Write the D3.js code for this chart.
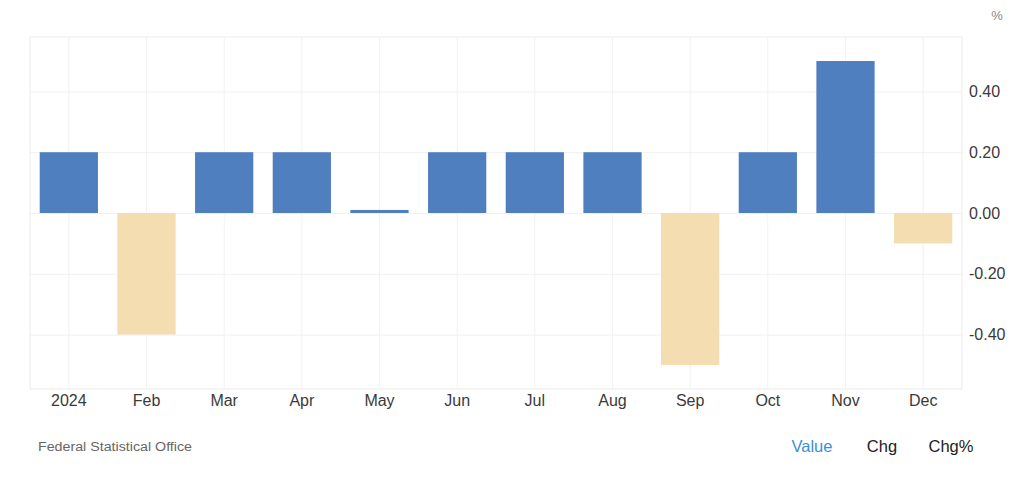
<!DOCTYPE html>
<html>
<head>
<meta charset="utf-8">
<script src="https://cdn.jsdelivr.net/npm/d3@7"></script>
<style>
  body { margin: 0; background: #fff; }
  svg { display: block; font-family: "Liberation Sans", Arial, sans-serif; }
</style>
</head>
<body>
<svg></svg>
<script>
var months = ["2024", "Feb", "Mar", "Apr", "May", "Jun", "Jul", "Aug", "Sep", "Oct", "Nov", "Dec"];
var values = [0.2, -0.4, 0.2, 0.2, 0.01, 0.2, 0.2, 0.2, -0.5, 0.2, 0.5, -0.1];
var yTicks = [-0.4, -0.2, 0, 0.2, 0.4];

var svgWidth = 1024, svgHeight = 481;
var plotLeft = 30, plotRight = 962, plotTop = 37, plotBottom = 389;

var svg = d3.select("svg")
    .attr("width", svgWidth)
    .attr("height", svgHeight);

var x = d3.scaleBand()
    .domain(months)
    .range([plotLeft, plotRight])
    .paddingInner(0.25)
    .paddingOuter(0.125);

var y = d3.scaleLinear()
    .domain([-0.579, 0.579])
    .range([plotBottom, plotTop]);

// plot frame
svg.append("rect")
    .attr("x", plotLeft)
    .attr("y", plotTop)
    .attr("width", plotRight - plotLeft)
    .attr("height", plotBottom - plotTop)
    .style("fill", "none")
    .style("stroke", "#ebebeb");

// vertical grid at category centers
svg.append("g")
    .selectAll("line")
    .data(months)
    .enter()
    .append("line")
    .attr("x1", function(d) { return x(d) + x.bandwidth() / 2; })
    .attr("x2", function(d) { return x(d) + x.bandwidth() / 2; })
    .attr("y1", plotTop)
    .attr("y2", plotBottom)
    .style("stroke", "#f2f2f2");

// horizontal grid + right axis (plain hyphen for negatives)
var fmt = function(d) { return d3.format(".2f")(d).replace("\u2212", "-"); };
var yAxis = svg.append("g")
    .attr("transform", "translate(" + plotRight + ",0)")
    .call(d3.axisRight(y).tickValues(yTicks).tickFormat(fmt).tickSize(-(plotRight - plotLeft)).tickPadding(7));
yAxis.select(".domain").remove();
yAxis.selectAll(".tick line").style("stroke", "#f0f0f0");
yAxis.selectAll(".tick text")
    .style("font-size", "16px")
    .style("fill", "#3a3a3a");

svg.append("text")
    .attr("x", 997)
    .attr("y", 20)
    .attr("text-anchor", "middle")
    .style("font-size", "13px")
    .style("fill", "#888")
    .text("%");

// bars
svg.append("g")
    .selectAll("rect")
    .data(values)
    .enter()
    .append("rect")
    .attr("x", function(d, i) { return x(months[i]); })
    .attr("width", x.bandwidth())
    .attr("y", function(d) { return y(Math.max(0, d)); })
    .attr("height", function(d) { return Math.abs(y(d) - y(0)); })
    .style("fill", function(d) { return d >= 0 ? "#4f7fbf" : "#f3ddb1"; });

// x axis
var xAxis = svg.append("g")
    .attr("transform", "translate(0," + plotBottom + ")")
    .call(d3.axisBottom(x).tickSize(0).tickPadding(6));
xAxis.select(".domain").remove();
xAxis.selectAll(".tick text")
    .style("font-size", "16px")
    .style("fill", "#3a3a3a");

// footer
svg.append("text")
    .attr("x", 38)
    .attr("y", 451)
    .attr("textLength", 154)
    .attr("lengthAdjust", "spacingAndGlyphs")
    .style("font-size", "12.5px")
    .style("fill", "#666")
    .text("Federal Statistical Office");

var tabs = [["Value", 812, "#3b8fd9"], ["Chg", 882, "#222"], ["Chg%", 951, "#222"]];
svg.append("g")
    .selectAll("text")
    .data(tabs)
    .enter()
    .append("text")
    .attr("x", function(d) { return d[1]; })
    .attr("y", 452)
    .attr("text-anchor", "middle")
    .style("font-size", "16.5px")
    .style("fill", function(d) { return d[2]; })
    .text(function(d) { return d[0]; });
</script>
</body>
</html>
